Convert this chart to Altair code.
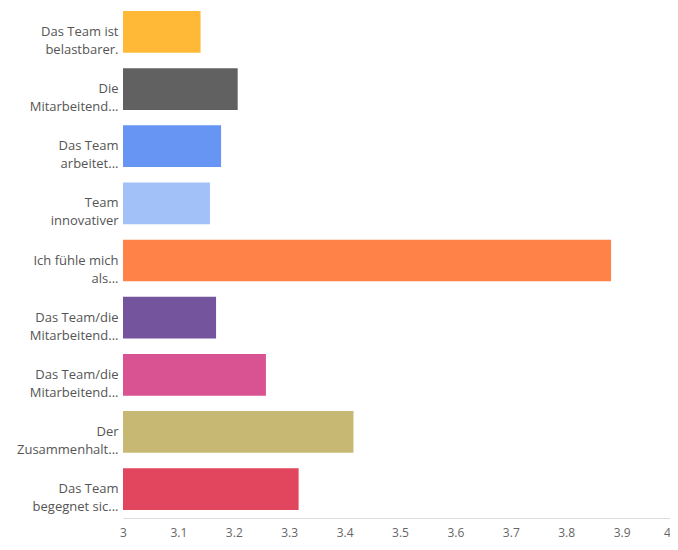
import altair as alt
import pandas as pd
import json

labels = [
    ["Das Team ist", "belastbarer."],
    ["Die", "Mitarbeitend..."],
    ["Das Team", "arbeitet..."],
    ["Team", "innovativer"],
    ["Ich fühle mich", "als..."],
    ["Das Team/die", "Mitarbeitend..."],
    ["Das Team/die", "Mitarbeitend..."],
    ["Der", "Zusammenhalt..."],
    ["Das Team", "begegnet sic..."],
]
values = [3.14, 3.207, 3.177, 3.157, 3.881, 3.168, 3.258, 3.416, 3.317]
colors = ["#FFB52C", "#585858", "#5E8FF2", "#9DBEF8", "#FF7B3E",
          "#6C4B98", "#D7498B", "#C4B56C", "#E03B55"]
ticks = [3, 3.1, 3.2, 3.3, 3.4, 3.5, 3.6, 3.7, 3.8, 3.9, 4]

df = pd.DataFrame({
    "row": list(range(len(values))),
    "value": values,
    "color": colors,
})

label_expr = json.dumps(labels, ensure_ascii=False) + "[datum.value]"

chart = alt.Chart(df).mark_bar(opacity=0.95).encode(
    y=alt.Y("row:O", title=None,
            scale=alt.Scale(paddingInner=0.27, paddingOuter=0.14),
            axis=alt.Axis(labelExpr=label_expr, domain=False, ticks=False,
                          labelPadding=5, labelFontSize=13, labelColor="#555555",
                          labelFont="Open Sans", labelLineHeight=18,
                          labelLimit=200)),
    x=alt.X("value:Q", title=None,
            scale=alt.Scale(domain=[3, 4], zero=False, nice=False),
            axis=alt.Axis(values=ticks, format=".1~f", grid=False, ticks=False,
                          domainColor="#dddddd", labelPadding=9,
                          labelFontSize=12, labelColor="#666666",
                          labelFont="Open Sans", labelFlush=False,
                          labelOffset={"condition": {"test": "datum.value == 4", "value": -10},
                                       "value": 0})),
    x2=alt.datum(3),
    color=alt.Color("color:N", scale=None, legend=None),
).properties(
    width=554,
    height=515,
    autosize=alt.AutoSizeParams(type="none"),
    padding={"left": 115, "top": -5, "right": -7, "bottom": 23},
).configure_view(stroke=None)

chart.save("out.html", embed_options={"renderer": "svg", "actions": False})
